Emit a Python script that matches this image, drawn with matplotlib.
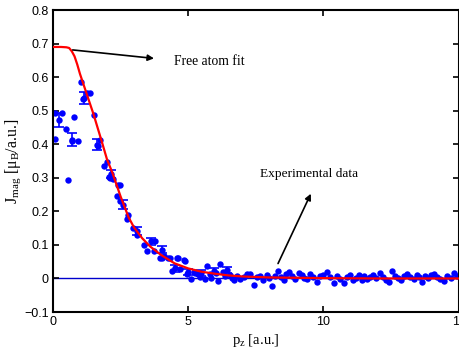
import numpy as np
import matplotlib
matplotlib.use("Agg")
import matplotlib.pyplot as plt

# Experimental Compton profile points
p_exp = [0.07, 0.32, 0.47, 0.79, 0.07, 0.69, 0.94, 0.57, 1.04, 1.12, 1.25, 1.39,
         1.53, 1.68, 1.74, 1.90, 1.99, 2.09, 2.11, 2.23, 2.42, 2.48, 2.36, 2.48,
         2.73, 2.79, 2.97, 3.10, 3.35, 3.47, 3.72, 3.78, 3.96, 4.09, 4.02, 4.27,
         4.33, 4.58, 4.64, 4.85, 4.89, 4.40, 4.70, 4.95, 5.10, 5.26, 5.38, 5.63,
         5.69, 6.12, 6.19, 6.37, 6.62, 6.80, 6.93, 7.17, 7.30, 7.42, 7.54,
         5.20, 5.45, 5.80, 5.85, 6.02, 6.30, 6.55, 6.70, 7.05,
         7.66, 7.78, 7.90, 8.00, 8.10, 8.22, 8.34, 8.45, 8.55, 8.63, 8.72, 8.83,
         8.95, 9.09, 9.20, 9.30, 9.39, 9.50, 9.62, 9.77, 9.88, 10.00, 10.13, 10.25,
         10.38, 10.50, 10.62, 10.75, 10.86, 10.98, 11.08, 11.19, 11.30, 11.42, 11.52,
         11.61, 11.72, 11.84, 11.96, 12.11, 12.22, 12.32, 12.42, 12.54, 12.65, 12.76,
         12.86, 12.97, 13.08, 13.20, 13.35, 13.45, 13.55, 13.65, 13.76, 13.88, 13.98,
         14.09, 14.20, 14.32, 14.46, 14.57, 14.70, 14.83, 14.95]
j_exp = [0.493, 0.493, 0.445, 0.481, 0.417, 0.409, 0.409, 0.293, 0.587, 0.535, 0.553, 0.553,
         0.488, 0.396, 0.414, 0.336, 0.346, 0.303, 0.300, 0.295, 0.280, 0.280, 0.245, 0.230,
         0.178, 0.190, 0.151, 0.131, 0.101, 0.081, 0.081, 0.111, 0.062, 0.066, 0.062, 0.062,
         0.060, 0.062, 0.062, 0.055, 0.052, 0.022, 0.027, 0.012, -0.001, 0.017, 0.012, -0.003,
         0.038, -0.008, 0.042, 0.007, 0.002, 0.007, -0.003, 0.014, 0.012, -0.018, 0.004,
         0.020, 0.005, 0.012, 0.000, 0.015, 0.020, 0.010, -0.005, 0.005,
         0.006, -0.004, 0.010, 0.002, -0.023, 0.008, 0.022, 0.004, -0.006, 0.012, 0.020, 0.006,
         -0.002, 0.017, 0.009, 0.002, -0.003, 0.012, 0.004, -0.011, 0.006, 0.010, 0.019, 0.003,
         -0.015, 0.008, -0.002, -0.013, 0.005, 0.010, -0.004, 0.002, 0.009, -0.006, 0.006,
         -0.003, 0.004, 0.010, 0.001, 0.017, 0.005, -0.004, -0.011, 0.022, 0.008, 0.002,
         -0.006, 0.007, 0.012, 0.003, -0.003, 0.009, 0.004, -0.011, 0.006, 0.001, 0.010,
         0.012, 0.004, -0.003, -0.008, 0.006, 0.002, 0.015, 0.008]

# Points carrying error bars
eb_p = [0.23, 0.69, 1.16, 1.62, 2.14, 2.60, 3.10, 3.62, 4.05, 4.52, 5.00, 5.48, 5.95, 6.45]
eb_j = [0.473, 0.414, 0.538, 0.399, 0.310, 0.220, 0.141, 0.111, 0.086, 0.030, 0.018, 0.015, 0.022, 0.024]
eb_e = [0.021, 0.019, 0.019, 0.016, 0.012, 0.013, 0.011, 0.011, 0.010, 0.010, 0.009, 0.009, 0.009, 0.009]

# Free atom fit curve
p_fit = [0, 0.3, 0.5, 0.6, 0.7, 0.8, 0.9, 1.0, 1.2, 1.5, 1.8, 2.0, 2.2, 2.5, 2.8, 3.0,
         3.3, 3.6, 4.0, 4.5, 5.0, 5.5, 6.0, 6.5, 7.0, 8.0, 9.0, 10.0, 12.0, 15.0]
j_fit = [0.690, 0.690, 0.689, 0.687, 0.677, 0.662, 0.638, 0.610, 0.562, 0.490, 0.410, 0.355,
         0.315, 0.245, 0.182, 0.152, 0.120, 0.095, 0.070, 0.045, 0.030, 0.020, 0.014, 0.009,
         0.006, 0.003, 0.002, 0.001, 0.0, 0.0]

plt.rcParams['mathtext.fontset'] = 'custom'
plt.rcParams['mathtext.rm'] = 'Liberation Serif'
plt.rcParams['mathtext.it'] = 'Liberation Serif:italic'

fig = plt.figure(figsize=(4.6, 3.54), dpi=100)
ax = fig.add_axes([0.115, 0.1186, 0.882, 0.853])

ax.axhline(0, color='#0000cc', lw=1.0, zorder=1)
ax.plot(p_exp, j_exp, 'o', color='#0000ff', ms=4.6, mec='none', zorder=2)
ax.errorbar(eb_p, eb_j, yerr=eb_e, fmt='o', color='#0000ff', ms=4.6, mec='none',
            capsize=3.5, elinewidth=1.2, capthick=1.2, zorder=2)
ax.plot(p_fit, j_fit, color='#ff0000', lw=1.6, zorder=3)

ax.annotate('', xy=(3.84, 0.655), xytext=(0.63, 0.682),
            arrowprops=dict(arrowstyle='-|>', color='k', lw=1.2, mutation_scale=9))
ax.text(4.48, 0.647, 'Free atom fit', family='Liberation Serif', fontsize=9.8, va='center')
ax.annotate('', xy=(9.58, 0.26), xytext=(8.28, 0.037),
            arrowprops=dict(arrowstyle='-|>', color='k', lw=1.2, mutation_scale=9))
ax.text(7.64, 0.31, 'Experimental data', family='Liberation Serif', fontsize=9.6, va='center')

ax.set_xlim(0, 15)
ax.set_ylim(-0.1, 0.8)
ax.set_xticks([0, 5, 10, 15])
ax.set_yticks(np.arange(-0.1, 0.81, 0.1))
ax.set_yticklabels(['\u22120.1', '0', '0.1', '0.2', '0.3', '0.4', '0.5', '0.6', '0.7', '0.8'])
ax.tick_params(direction='in', top=True, right=True, length=4, width=1.2,
               labelsize=9, pad=3)
for lbl in ax.get_xticklabels() + ax.get_yticklabels():
    lbl.set_family('Liberation Sans')
for s in ax.spines.values():
    s.set_linewidth(1.5)

ax.set_xlabel(r'p$_\mathrm{z}$ [a.u.]', family='Liberation Serif', fontsize=10.5, labelpad=3)
ax.set_ylabel('J$_\\mathrm{mag}$ [\u03bc$_\\mathrm{B}$/a.u.]',
              family='Liberation Serif', fontsize=11.5, labelpad=1)

fig.savefig('out.png', dpi=100)
